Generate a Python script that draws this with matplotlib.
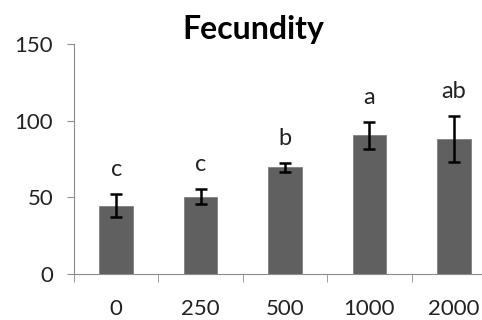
import matplotlib.pyplot as plt
import numpy as np

doses = ['0', '250', '500', '1000', '2000']
fecundity = [44.5, 50.4, 69.6, 90.4, 87.8]
err = [7.4, 5.0, 2.8, 8.8, 15.0]
letters = ['c', 'c', 'b', 'a', 'ab']

plt.rcParams['font.family'] = ['Lato', 'DejaVu Sans']

fig = plt.figure(figsize=(4.82, 3.2), dpi=100)
ax = fig.add_axes([0.1535, 0.14375, 0.8755, 0.71875])

x = np.arange(len(doses))
ax.bar(x, fecundity, width=0.4, color='#606060', edgecolor='#808080', linewidth=0.6, zorder=2)
ax.errorbar(x, fecundity, yerr=err, fmt='none', ecolor='black', elinewidth=1.8,
            capsize=4, capthick=1.8, zorder=3)

# letras de significancia encima de las barras de error
for xi, top, lab in zip(x, np.array(fecundity) + np.array(err), letters):
    ax.text(xi, top + 16, lab, ha='center', va='center', fontsize=17, color='#222222')

ax.set_xlim(-0.5, len(doses) - 0.5)
ax.set_ylim(0, 150)
ax.set_yticks([0, 50, 100, 150])
ax.set_xticks(x)
ax.set_xticklabels(doses)
ax.set_xticks(np.arange(len(doses) + 1) - 0.5, minor=True)

for s in ['top', 'right']:
    ax.spines[s].set_visible(False)
for s in ['left', 'bottom']:
    ax.spines[s].set_color('#8c8c8c')

ax.tick_params(axis='y', length=5, color='#8c8c8c', pad=10, labelsize=16, labelcolor='#222222')
ax.tick_params(axis='x', which='major', length=0, pad=18, labelsize=16, labelcolor='#222222')
ax.tick_params(axis='x', which='minor', length=6, color='#8c8c8c')

fig.text(0.525, 0.878, 'Fecundity', ha='center', va='baseline', fontsize=23, fontweight='bold')

fig.savefig('out.png', dpi=100)
